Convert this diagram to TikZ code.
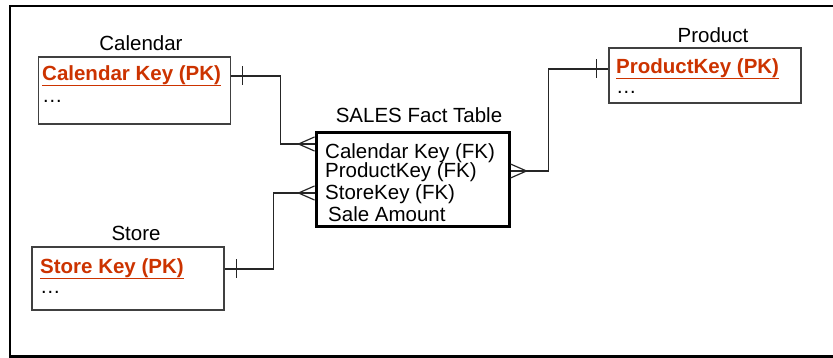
\documentclass[tikz,border=0pt]{standalone}
\usepackage{fontspec}
\setmainfont{Liberation Sans}
\usetikzlibrary{calc,positioning}
\definecolor{pkred}{RGB}{204,51,0}
\tikzset{
  frame/.style={draw=black, line width=2.5pt},
  dimtable/.style={draw=black!75, line width=1.3pt, minimum width=192pt},
  facttable/.style={draw=black, line width=3pt, minimum width=193pt, minimum height=94pt},
  title/.style={font=\fontsize{20.5}{22}\selectfont, inner sep=0pt, anchor=base},
  field/.style={font=\fontsize{20.5}{22}\selectfont, inner sep=0pt, anchor=base west},
  pkfield/.style={field, font=\fontsize{20.5}{22}\selectfont\bfseries, text=pkred},
  pkline/.style={pkred, line width=1.8pt},
  conn/.style={draw=black!85, line width=1.2pt}
}

\begin{document}
\begin{tikzpicture}[x=1pt, y=-1pt]
\useasboundingbox (0,0) rectangle (833,358);

% outer frame
\draw[frame] (850,6) -- (10,6) -- (10,356.5) -- (850,356.5);

% dimension tables
\node[dimtable, minimum height=67pt] (cal) at (134.5,90.5) {};
\node[title] (caltitle) at (141,51) {Calendar};
\node[pkfield] (calpk) at (42,81) {Calendar Key (PK)};
\node[field] (calmore) at (42,103) {…};

\node[dimtable, minimum height=63pt] (store) at (128,278.5) {};
\node[title] (storetitle) at (136,241) {Store};
\node[pkfield] (storepk) at (40,274) {Store Key (PK)};
\node[field] (storemore) at (40,294) {…};

\node[dimtable, minimum height=55pt] (prod) at (705,75.5) {};
\node[title] (prodtitle) at (713,43) {Product};
\node[pkfield] (prodpk) at (616,74) {ProductKey (PK)};
\node[field] (prodmore) at (616,94) {…};

\foreach \k in {calpk,storepk,prodpk}
  \draw[pkline] ([yshift=-4.5pt]\k.base west) -- ([yshift=-4.5pt]\k.base east);

% fact table
\node[facttable] (fact) at (412.5,180) {};
\node[title] (facttitle) at (419,123) {SALES Fact Table};
\node[field] (fkcal) at (325,159) {Calendar Key (FK)};
\node[field] (fkprod) at (325,178) {ProductKey (FK)};
\node[field] (fkstore) at (325,200) {StoreKey (FK)};
\node[field] (amount) at (328,222) {Sale Amount};

% relationships
\coordinate (calout) at (cal.east |- 0,76);
\coordinate (calfk) at (fact.west |- 0,144);
\coordinate (storeout) at (store.east |- 0,269);
\coordinate (storefk) at (fact.west |- 0,193);
\coordinate (prodin) at (prod.west |- 0,69);
\coordinate (prodfk) at (fact.east |- 0,171);

\draw[conn] (calout) -- ++(49,0) |- (calfk);
\draw[conn] (storeout) -- ++(49,0) |- (storefk);
\draw[conn] (prodfk) -- ++(38,0) |- (prodin);

% one side
\draw[conn] ([xshift=11pt]calout) ++(0,-9.5) -- ++(0,19);
\draw[conn] ([xshift=12pt]storeout) ++(0,-9.5) -- ++(0,19);
\draw[conn] ([xshift=-12pt]prodin) ++(0,-9.5) -- ++(0,19);

% many side
\foreach \c in {calfk,storefk}
  \draw[conn] (\c) ++(-16,0) -- ++(16,-7) ++(-16,7) -- ++(16,7);
\draw[conn] (prodfk) ++(16,0) -- ++(-16,-7) ++(16,7) -- ++(-16,7);

\end{tikzpicture}
\end{document}
